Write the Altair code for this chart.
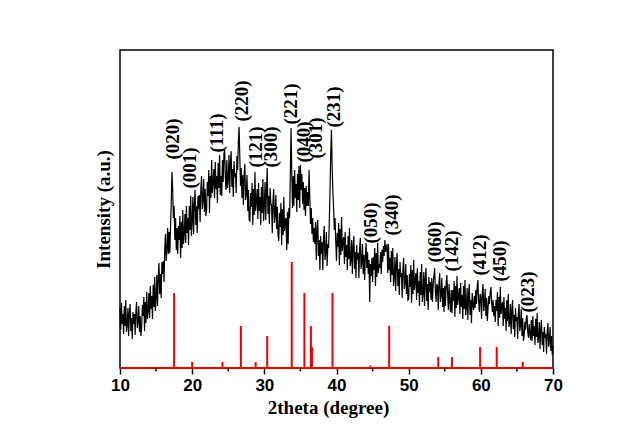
import altair as alt
import numpy as np
import pandas as pd

# --- measured XRD pattern (2theta step 0.1 deg, 10.0 .. 70.0), arbitrary units ---
intensity = [
    60, 38, 65, 44, 54, 34, 62, 42, 68, 36,        # 10
    43, 60, 32, 55, 64, 37, 50, 29, 56, 44,        # 11
    54, 33, 57, 66, 40, 46, 62, 36, 52, 32,        # 12
    41, 63, 52, 71, 37, 66, 45, 76, 49, 57,        # 13
    75, 50, 82, 59, 72, 49, 83, 61, 91, 57,        # 14
    70, 93, 62, 91, 105, 74, 94, 70, 106, 94,      # 15
    107, 86, 119, 134, 107, 118, 140, 114, 136, 115,  # 16
    140, 165, 196, 178, 150, 162, 128, 150, 118, 140,  # 17
    114, 142, 128, 152, 110, 146, 120, 158, 124, 134,  # 18
    154, 125, 162, 135, 150, 123, 162, 138, 172, 132,  # 19
    146, 171, 134, 165, 178, 143, 162, 135, 172, 159,  # 20
    173, 146, 179, 192, 159, 168, 189, 156, 179, 152,  # 21
    157, 186, 172, 198, 155, 192, 170, 208, 175, 186,  # 22
    199, 170, 206, 179, 192, 165, 205, 180, 213, 173,  # 23
    192, 172, 208, 186, 214, 218, 190, 178, 208, 180,  # 24
    189, 213, 175, 205, 217, 181, 199, 171, 207, 191,  # 25
    195, 175, 212, 198, 226, 241, 212, 182, 200, 170,  # 26
    193, 163, 193, 204, 168, 174, 193, 157, 178, 148,  # 27
    147, 175, 161, 185, 143, 179, 153, 196, 157, 167,  # 28
    179, 149, 185, 157, 171, 143, 181, 155, 189, 147,  # 29
    162, 186, 148, 178, 200, 154, 172, 144, 180, 164,  # 30
    163, 135, 167, 179, 145, 153, 173, 139, 161, 133,  # 31
    127, 155, 141, 165, 123, 159, 133, 171, 137, 147,  # 32
    150, 118, 156, 124, 160, 150, 192, 240, 198, 160,  # 33
    192, 162, 198, 170, 184, 156, 194, 168, 202, 160,  # 34
    203, 178, 194, 164, 186, 158, 180, 152, 182, 162,  # 35
    176, 162, 198, 170, 144, 160, 134, 150, 126, 140,  # 36
    124, 146, 108, 138, 148, 112, 128, 98, 132, 114,   # 37
    126, 98, 130, 142, 108, 116, 136, 102, 124, 120,   # 38
    145, 178, 212, 238, 200, 176, 160, 138, 150, 126,  # 39
    107, 135, 121, 145, 103, 139, 113, 151, 117, 127,  # 40
    131, 104, 136, 111, 123, 98, 132, 109, 140, 102,   # 41
    107, 128, 94, 121, 132, 99, 116, 90, 123, 108,     # 42
    115, 90, 119, 130, 99, 106, 124, 94, 113, 88,      # 43
    112, 125, 100, 116, 94, 108, 66, 104, 92, 110,     # 44
    86, 111, 98, 120, 82, 115, 91, 125, 95, 104,       # 45
    100, 116, 94, 118, 106, 122, 112, 128, 116, 122,   # 46
    123, 95, 124, 98, 110, 86, 117, 93, 120, 82,       # 47
    90, 111, 77, 104, 115, 82, 99, 73, 106, 91,        # 48
    95, 70, 99, 110, 79, 86, 104, 74, 93, 68,          # 49
    69, 94, 81, 103, 65, 98, 74, 108, 78, 87,          # 50
    95, 68, 100, 75, 87, 62, 96, 73, 104, 66,          # 51
    75, 96, 62, 89, 100, 67, 84, 58, 91, 76,           # 52
    86, 68, 90, 66, 84, 92, 100, 78, 66, 84,           # 53
    82, 58, 85, 95, 66, 73, 90, 61, 80, 56,            # 54
    82, 62, 86, 93, 74, 58, 84, 66, 56, 78,            # 55
    55, 78, 67, 87, 51, 82, 60, 92, 63, 72,            # 56
    80, 54, 85, 61, 73, 49, 82, 59, 88, 53,            # 57
    60, 80, 48, 74, 84, 53, 68, 45, 75, 62,            # 58
    58, 72, 60, 78, 64, 82, 88, 66, 56, 74,            # 59
    71, 49, 75, 84, 57, 63, 79, 52, 70, 47,            # 60
    60, 72, 64, 76, 81, 66, 56, 68, 52, 62,            # 61
    46, 68, 57, 76, 42, 71, 50, 81, 54, 62,            # 62
    66, 42, 71, 49, 60, 37, 68, 47, 74, 41,            # 63
    45, 64, 34, 58, 68, 39, 53, 31, 60, 47,            # 64
    51, 29, 55, 64, 37, 43, 59, 32, 50, 27,            # 65
    32, 46, 38, 50, 53, 36, 30, 44, 34, 28,            # 66
    48, 27, 52, 32, 42, 23, 49, 31, 55, 25,            # 67
    29, 46, 19, 40, 48, 23, 36, 16, 41, 30,            # 68
    34, 14, 36, 45, 21, 27, 41, 17, 32, 13,            # 69
    22,                                                # 70
]
two_theta = np.round(10 + 0.1 * np.arange(len(intensity)), 1)

# --- reference stick pattern ---
stick_pos = [17.5, 20.0, 24.2, 26.75, 28.8, 30.4, 33.8, 35.55, 36.45, 36.6,
             39.45, 44.7, 47.3, 54.1, 56.0, 59.9, 62.2, 65.8]
stick_h = [75, 6, 6, 42, 6, 32, 106, 75, 42, 21,
           75, 2.5, 42, 11, 11, 21, 21, 6]

# --- peak (hkl) labels ---
hkl = ["(020)", "(001)", "(111)", "(220)", "(121)", "(300)", "(221)", "(040)",
       "(301)", "(231)", "(050)", "(340)", "(060)", "(142)", "(412)", "(450)", "(023)"]
hkl_x = [17.34, 19.7, 23.44, 26.9, 28.85, 30.92, 33.7, 35.5,
         37.16, 39.65, 44.78, 47.69, 53.65, 56.0, 59.88, 62.65, 66.5]
hkl_y = [229, 200, 235, 267, 221, 221, 264, 226,
         230, 261, 145, 153, 126, 117, 113, 107, 76]

x_ticks = [10, 20, 30, 40, 50, 60, 70]
x_minor = [15, 25, 35, 45, 55, 65]
x_range = [10, 70]
y_range = [0, 318]

curve_df = pd.DataFrame({"t": two_theta, "I": intensity})
stick_df = pd.DataFrame({"t": stick_pos, "h": stick_h, "b": 0})
label_df = pd.DataFrame({"t": hkl_x, "y": hkl_y, "lab": hkl})
minor_df = pd.DataFrame({"m": x_minor})
base_df = pd.DataFrame({"a": [x_range[0]], "b": [x_range[1]], "y": [0]})

xscale = alt.Scale(domain=x_range, nice=False, zero=False)
yscale = alt.Scale(domain=y_range, nice=False, zero=False)

serif = "Liberation Serif"
sans = "Liberation Sans"

x_axis = alt.Axis(
    values=x_ticks, title="2theta (degree)", titleFont=serif, titleFontWeight="bold",
    titleFontSize=19, titleColor="black", titleX=208, titleY=45,
    titleBaseline="alphabetic", labelFont=sans, labelFontWeight="bold",
    labelFontSize=17, labelColor="black", tickColor="black", tickWidth=1.5,
    tickSize=6, domain=False, grid=False, labelPadding=3, labelFlush=False,
)
y_axis = alt.Axis(
    title="Intensity (a.u.)", titleFont=serif, titleFontWeight="bold",
    titleFontSize=19, titleColor="black", labels=False, ticks=False,
    domain=False, grid=False, titleX=-7, titleY=159, titleAngle=270,
    titleBaseline="bottom", titleAlign="center",
)

curve = alt.Chart(curve_df).mark_line(color="black", strokeWidth=1.2).encode(
    x=alt.X("t:Q", scale=xscale, axis=x_axis),
    y=alt.Y("I:Q", scale=yscale, axis=y_axis),
)

sticks = alt.Chart(stick_df).mark_rule(color="#ee0000", strokeWidth=2).encode(
    x=alt.X("t:Q", scale=xscale),
    y=alt.Y("b:Q", scale=yscale),
    y2="h:Q",
)

baseline = alt.Chart(base_df).mark_rule(color="#ee0000", strokeWidth=2).encode(
    x=alt.X("a:Q", scale=xscale), x2="b:Q", y=alt.Y("y:Q", scale=yscale),
)

minor = alt.Chart(minor_df).mark_rule(color="black", strokeWidth=1.5).encode(
    x=alt.X("m:Q", scale=xscale), y=alt.value(318), y2=alt.value(321.5),
)

labels = alt.Chart(label_df).mark_text(
    angle=270, font=serif, fontWeight="bold", fontSize=19, color="black",
    align="center", baseline="middle",
).encode(
    x=alt.X("t:Q", scale=xscale), y=alt.Y("y:Q", scale=yscale), text="lab:N",
)

chart = alt.layer(curve, sticks, baseline, minor, labels).properties(
    width=433, height=318,
    padding={"left": 112, "top": 42, "right": 20, "bottom": 62},
    autosize=alt.AutoSizeParams(type="none"),
).configure_view(stroke="black", strokeWidth=1.5)

chart.save("out.html", embed_options={"renderer": "svg", "actions": False})
